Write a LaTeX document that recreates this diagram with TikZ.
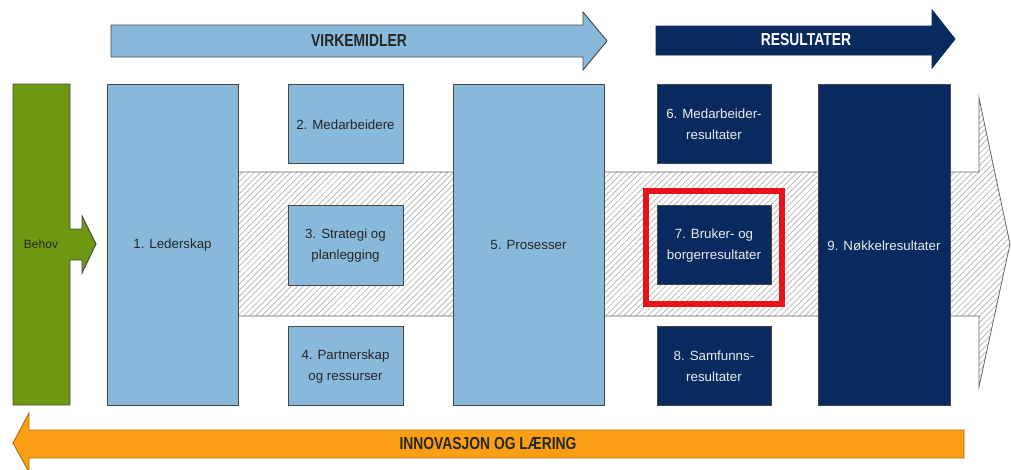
\documentclass[tikz,border=0pt]{standalone}
\usepackage{fontspec}
\setmainfont{Liberation Sans}
\newfontfamily\titlefont[FakeStretch=0.8]{Liberation Sans}
\usetikzlibrary{fit,patterns.meta}
\definecolor{lblue}{RGB}{137,185,218}
\definecolor{navy}{RGB}{8,42,94}
\definecolor{olivegreen}{RGB}{111,152,18}
\definecolor{orng}{RGB}{250,159,20}
\definecolor{hred}{RGB}{232,18,24}
\definecolor{edgegray}{RGB}{70,70,70}
\begin{document}
\begin{tikzpicture}[x=0.75pt,y=-0.75pt,
  boxbase/.style={draw=edgegray, line width=0.7pt, inner sep=0pt},
  lbox/.style={boxbase, fill=lblue},
  nbox/.style={boxbase, fill=navy},
  txt/.style={align=center, inner sep=0pt, font=\fontsize{10}{15.5}\selectfont, yshift=-0.6pt},
  ltxt/.style={txt, text=black!85},
  ntxt/.style={txt, text=white!92!black},
  title/.style={font=\titlefont\bfseries\fontsize{13}{15}\selectfont, inner sep=0pt}
]
\useasboundingbox (0,0) rectangle (1011,469);

% hatched background arrow
\draw[gray!80!black, line width=0.6pt, preaction={fill=white},
  pattern={Lines[angle=45,distance=3.2pt,line width=0.5pt]}, pattern color=gray!60]
  (238,172) -- (979,172) -- (979,98) -- (1010,244) -- (979,387) -- (979,316) -- (238,316) -- cycle;

% top arrows
\draw[draw=edgegray, line width=0.7pt, fill=lblue]
  (111,25) -- (583,25) -- (583,12) -- (607,41) -- (583,70) -- (583,57) -- (111,57) -- cycle;
\node[title, text=black!85] (virk) at (359,41) {VIRKEMIDLER};
\draw[draw=navy, line width=0.7pt, fill=navy]
  (656,26) -- (932,26) -- (932,10) -- (955,39) -- (932,68) -- (932,55) -- (656,55) -- cycle;
\node[title, text=white] (res) at (806,40) {RESULTATER};

% bottom arrow
\draw[draw=orng!70!black, line width=0.7pt, fill=orng]
  (964,430) -- (29,430) -- (29,413) -- (13,443) -- (29,472) -- (29,458) -- (964,458) -- cycle;
\node[title, text=black!85] (innov) at (488,444) {INNOVASJON OG LÆRING};

% Behov
\draw[draw=edgegray, line width=0.7pt, fill=olivegreen]
  (13,84) -- (70,84) -- (70,229) -- (82,229) -- (82,216) -- (96,244) -- (82,273)
  -- (82,260) -- (70,260) -- (70,405) -- (13,405) -- cycle;
\node[font=\fontsize{9}{11}\selectfont, text=black!85, inner sep=0pt] (behov) at (41,244) {Behov};

% boxes
\node[lbox, fit={(107,84)(238,405)}] (b1) {};
\node[lbox, fit={(288,84)(403,163)}] (b2) {};
\node[lbox, fit={(288,205)(403,285)}] (b3) {};
\node[lbox, fit={(288,326)(403,405)}] (b4) {};
\node[lbox, fit={(453,84)(604,405)}] (b5) {};
\node[nbox, fit={(657,84)(771,163)}] (b6) {};
\node[nbox, fit={(657,205)(771,284)}] (b7) {};
\node[nbox, fit={(657,326)(771,405)}] (b8) {};
\node[nbox, fit={(818,84)(950,405)}] (b9) {};

\node[ltxt] (t1) at (b1.center) {1. Lederskap};
\node[ltxt] (t2) at (b2.center) {2. Medarbeidere};
\node[ltxt] (t3) at (b3.center) {3. Strategi og\\planlegging};
\node[ltxt] (t4) at (b4.center) {4. Partnerskap\\og ressurser};
\node[ltxt] (t5) at (b5.center) {5. Prosesser};
\node[ntxt] (t6) at (b6.center) {6. Medarbeider-\\resultater};
\node[ntxt] (t7) at (b7.center) {7. Bruker- og\\borgerresultater};
\node[ntxt] (t8) at (b8.center) {8. Samfunns-\\resultater};
\node[ntxt] (t9) at (b9.center) {9. Nøkkelresultater};

% highlight
\node[draw=hred, line width=4.5pt, inner sep=0pt, fit={(646,191)(782,304)}] (hl) {};
\end{tikzpicture}
\end{document}
